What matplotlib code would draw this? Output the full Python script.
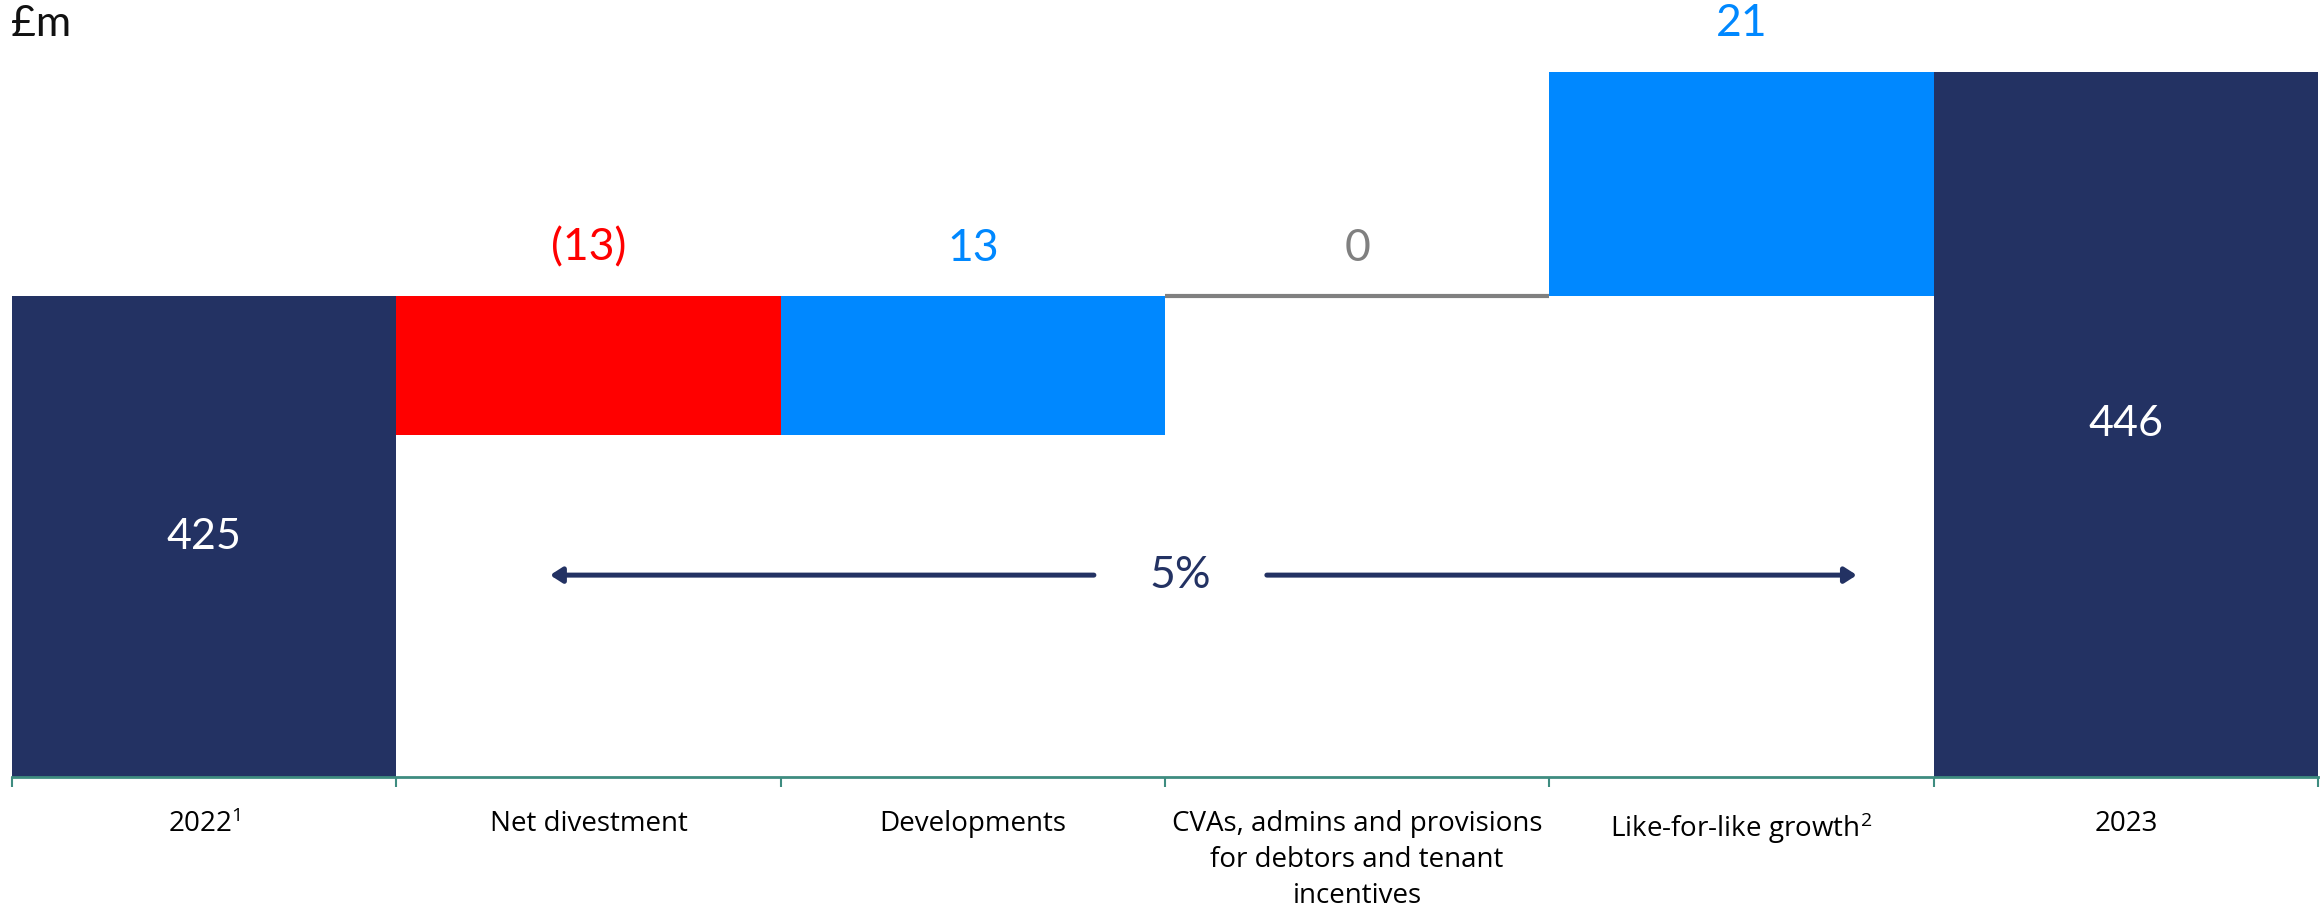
import matplotlib
matplotlib.use("Agg")
import matplotlib.pyplot as plt
import numpy as np

# Net rental income bridge, £m
categories = ["2022$^{1}$", "Net divestment", "Developments",
              "CVAs, admins and provisions\nfor debtors and tenant\nincentives",
              "Like-for-like growth$^{2}$", "2023"]
start_value = 425
changes = [-13, 13, 0, 21]
end_value = 446
change_labels = ["(13)", "13", "0", "21"]
growth_label = "5%"

NAVY = "#233263"
BLUE = "#0088ff"
RED = "#ff0000"
GREY = "#808080"
AXIS = "#3e8c80"

plt.rcParams["font.family"] = ["Open Sans", "DejaVu Sans"]
plt.rcParams["mathtext.default"] = "regular"

W, H = 2323, 909
fig = plt.figure(figsize=(W / 100, H / 100), dpi=100)
ax = fig.add_axes([12 / W, (H - 777) / H, (2318 - 12) / W, 777 / H])

x = np.arange(len(categories))
ymin = 380

# totals at both ends
ax.bar([x[0], x[-1]], [start_value - ymin, end_value - ymin], bottom=ymin,
       width=1.0, color=NAVY, linewidth=0)

# floating change bars
level = start_value
tops = []
for i, d in enumerate(changes):
    xi = x[i + 1]
    new = level + d
    if d == 0:
        ax.hlines(level, xi - 0.5, xi + 0.5, color=GREY, linewidth=3)
        colour = GREY
    else:
        colour = BLUE if d > 0 else RED
        ax.bar(xi, abs(d), bottom=min(level, new), width=1.0,
               color=colour, linewidth=0)
    tops.append((max(level, new), colour))
    level = new

for i, (lbl, (top, colour)) in enumerate(zip(change_labels, tops)):
    ax.annotate(lbl, (x[i + 1], top), xytext=(0, 48), textcoords="offset pixels",
                ha="center", va="center", fontsize=32, color=colour,
                family=["Lato", "DejaVu Sans"])

# values inside the total bars
for xi, v in [(x[0], start_value), (x[-1], end_value)]:
    ax.text(xi, (ymin + v) / 2, str(v), ha="center", va="center",
            fontsize=31, color="white", family=["Lato", "DejaVu Sans"])

# growth arrow between the totals
arrow_y = 398.9
arr = dict(arrowstyle="-|>,head_length=0.7,head_width=0.45", color=NAVY,
           lw=3.6, shrinkA=0, shrinkB=0)
ax.annotate("", xy=(0.90, arrow_y), xytext=(2.315, arrow_y), arrowprops=arr)
ax.annotate("", xy=(4.30, arrow_y), xytext=(2.765, arrow_y), arrowprops=arr)
ax.text(2.54, arrow_y, growth_label, ha="center", va="center", fontsize=32,
        color=NAVY, family=["Lato", "DejaVu Sans"])

ax.set_xlim(-0.5, len(categories) - 0.5)
ax.set_ylim(ymin, 452.74)

for s in ["top", "left", "right"]:
    ax.spines[s].set_visible(False)
ax.spines["bottom"].set_color(AXIS)
ax.spines["bottom"].set_linewidth(2)
ax.set_yticks([])

ax.set_xticks(x)
ax.set_xticklabels(categories, fontsize=20, linespacing=1.38, va="top")
ax.tick_params(axis="x", which="major", length=0, pad=24)
ax.set_xticks(np.arange(-0.5, len(categories)), minor=True)
ax.tick_params(axis="x", which="minor", length=7.5, width=1.5, color=AXIS)

fig.text(11 / W, (H - 36) / H, "£m", fontsize=31, color="#111111",
         ha="left", va="baseline", family=["Lato", "DejaVu Sans"])

fig.savefig("out.png", dpi=100, facecolor="white")
